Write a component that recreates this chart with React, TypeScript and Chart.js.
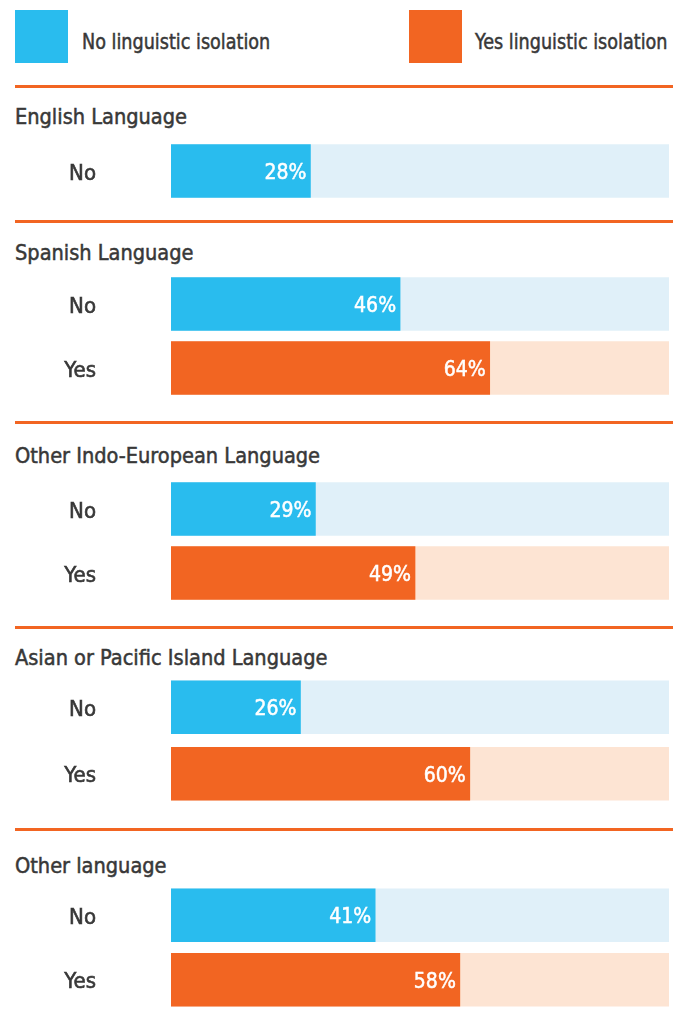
import React, { useEffect, useRef } from "react";
import { Chart, registerables } from "chart.js";

Chart.register(...registerables);

// ---- data ----
const legendLabels = ["No linguistic isolation", "Yes linguistic isolation"];
const groupNames = [
  "English Language",
  "Spanish Language",
  "Other Indo-European Language",
  "Asian or Pacific Island Language",
  "Other language",
];
const rowLabels = ["No", "Yes"];
const noValues = [28, 46, 29, 26, 41];
const yesValues: (number | null)[] = [null, 64, 49, 60, 58];
const trackMax = 100;

// ---- style ----
const FONT = '"Liberation Sans Narrow", "DejaVu Sans Condensed", "Open Sans", sans-serif';
const BLUE = "#29BCEE";
const BLUE_LIGHT = "#E0F0F9";
const ORANGE = "#F26522";
const ORANGE_LIGHT = "#FDE4D3";
const TEXT = "#383838";

// layout per group (pixel positions of separator, header centre, chart top, chart height)
const layout = [
  { sep: 85, head: 117, top: 139, h: 64 },
  { sep: 220, head: 253, top: 272, h: 128 },
  { sep: 421, head: 456, top: 477, h: 128 },
  { sep: 626, head: 658, top: 674, h: 133 },
  { sep: 828, head: 866, top: 883, h: 129 },
];

const labelPlugin = {
  id: "labels",
  afterDatasetsDraw(chart: any) {
    const ctx = chart.ctx;
    const meta = chart.getDatasetMeta(1);
    const data = chart.data.datasets[1].data;
    const labels = chart.data.labels;
    const yScale = chart.scales.y;
    ctx.save();
    ctx.textBaseline = "alphabetic";
    // value labels inside bar ends
    ctx.fillStyle = "#ffffff";
    ctx.strokeStyle = "#ffffff";
    ctx.lineWidth = 0.5;
    ctx.font = `21px ${FONT}`;
    ctx.textAlign = "right";
    meta.data.forEach((bar: any, i: number) => {
      const v = data[i];
      if (v == null) return;
      ctx.fillText(`${v}%`, bar.x - 4, bar.y + 8);
      ctx.strokeText(`${v}%`, bar.x - 4, bar.y + 8);
    });
    // row (category) labels
    ctx.fillStyle = TEXT;
    ctx.strokeStyle = TEXT;
    ctx.lineWidth = 0.6;
    ctx.font = `22px ${FONT}`;
    ctx.textAlign = "right";
    labels.forEach((lab: string, i: number) => {
      const y = yScale.getPixelForValue(i) + 8.5;
      ctx.fillText(lab, 96, y);
      ctx.strokeText(lab, 96, y);
    });
    ctx.restore();
  },
};

function GroupChart({ index }: { index: number }) {
  const ref = useRef<HTMLCanvasElement>(null);
  useEffect(() => {
    const hasYes = yesValues[index] != null;
    const labels = hasYes ? rowLabels : rowLabels.slice(0, 1);
    const vals = hasYes ? [noValues[index], yesValues[index]] : [noValues[index]];
    const chart = new Chart(ref.current!, {
      type: "bar",
      data: {
        labels,
        datasets: [
          {
            data: labels.map(() => trackMax),
            backgroundColor: [BLUE_LIGHT, ORANGE_LIGHT],
            barThickness: 53,
            grouped: false,
            order: 2,
          },
          {
            data: vals,
            backgroundColor: [BLUE, ORANGE],
            barThickness: 53,
            grouped: false,
            order: 1,
          },
        ],
      },
      options: {
        indexAxis: "y",
        animation: false,
        responsive: false,
        layout: { padding: { left: 171, right: 14, top: 0, bottom: 0 } },
        plugins: { legend: { display: false }, tooltip: { enabled: false } },
        scales: {
          x: { min: 0, max: 100, display: false },
          y: { display: false },
        },
      },
      plugins: [labelPlugin],
    } as any);
    return () => chart.destroy();
  }, [index]);
  const l = layout[index];
  return (
    <canvas
      ref={ref}
      width={683}
      height={l.h}
      style={{ position: "absolute", left: 0, top: l.top, width: 683, height: l.h }}
    />
  );
}

const textStyle = (left: number, centre: number, sx: number): React.CSSProperties => ({
  position: "absolute",
  left,
  top: centre - 15,
  lineHeight: "30px",
  fontSize: 22,
  whiteSpace: "nowrap",
  transform: `scaleX(${sx})`,
  transformOrigin: "left center",
  WebkitTextStroke: `0.5px ${TEXT}`,
});

export default function App() {
  return (
    <div
      style={{
        position: "absolute",
        left: 0,
        top: 0,
        width: 683,
        height: 1036,
        background: "#fff",
        fontFamily: FONT,
        color: TEXT,
      }}
    >
      {/* legend */}
      <div style={{ position: "absolute", left: 15, top: 10, width: 53, height: 53, background: BLUE }} />
      <div style={textStyle(82, 42, 0.89)}>{legendLabels[0]}</div>
      <div style={{ position: "absolute", left: 409, top: 10, width: 53, height: 53, background: ORANGE }} />
      <div style={textStyle(475, 42, 0.89)}>{legendLabels[1]}</div>

      {groupNames.map((name, i) => (
        <React.Fragment key={name}>
          <div
            style={{ position: "absolute", left: 15, top: layout[i].sep, width: 658, height: 3, background: ORANGE }}
          />
          <div style={textStyle(15, layout[i].head, 0.98)}>{name}</div>
          <GroupChart index={i} />
        </React.Fragment>
      ))}
    </div>
  );
}
